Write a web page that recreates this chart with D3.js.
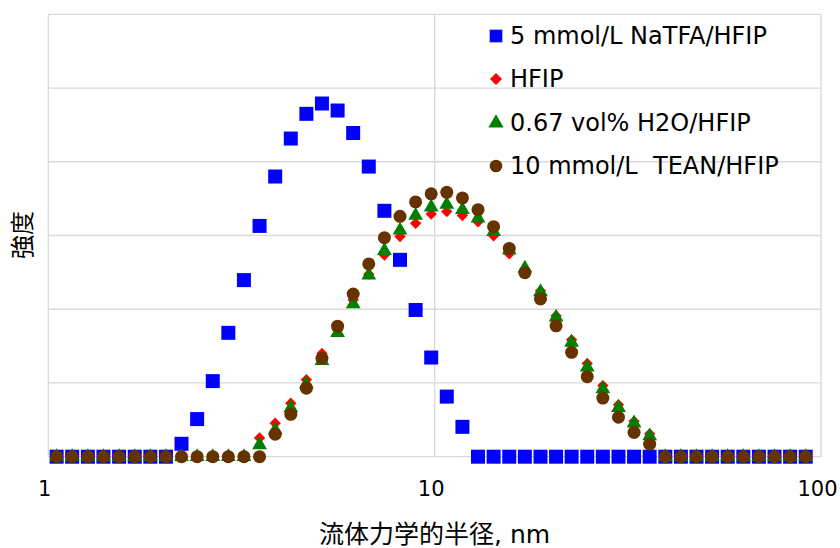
<!DOCTYPE html>
<html>
<head>
<meta charset="utf-8">
<script src="https://cdn.jsdelivr.net/npm/d3@7"></script>
<style>
  html, body { margin: 0; padding: 0; background: #fff; }
  svg { display: block; }
  text { font-family: "DejaVu Sans", "Noto Sans CJK JP", sans-serif; fill: #000; }
</style>
</head>
<body>
<svg id="chart" width="840" height="548"></svg>
<script>
// Hydrodynamic radius bins (nm), log spaced
const radius = [1.051, 1.153, 1.266, 1.389, 1.525, 1.674, 1.837, 2.016, 2.212, 2.428,
  2.665, 2.924, 3.209, 3.522, 3.866, 4.243, 4.656, 5.109, 5.608, 6.153,
  6.753, 7.412, 8.135, 8.928, 9.797, 10.75, 11.80, 12.95, 14.21, 15.60,
  17.12, 18.79, 20.62, 22.62, 24.83, 27.25, 29.91, 32.82, 36.02, 39.54,
  43.39, 47.62, 52.26, 57.35, 62.94, 69.07, 75.80, 83.18, 91.29];

// Intensity distribution of each solvent
const naTFA = [0, 0, 0, 0, 0, 0, 0, 0, 0.35, 1.02,
  2.05, 3.36, 4.79, 6.26, 7.60, 8.63, 9.30, 9.58, 9.39, 8.78,
  7.87, 6.67, 5.34, 3.98, 2.69, 1.63, 0.81, 0, 0, 0,
  0, 0, 0, 0, 0, 0, 0, 0, 0, 0,
  0, 0, 0, 0, 0, 0, 0, 0, 0];
const hfip = [0, 0, 0, 0, 0, 0, 0, 0, 0, 0,
  0, 0, 0, 0.51, 0.91, 1.45, 2.09, 2.80, 3.44, 4.25,
  4.95, 5.47, 5.97, 6.33, 6.58, 6.65, 6.54, 6.37, 5.99, 5.50,
  5.04, 4.50, 3.82, 3.17, 2.53, 1.93, 1.41, 0.96, 0.62, 0,
  0, 0, 0, 0, 0, 0, 0, 0, 0];
const h2o = [0, 0, 0, 0, 0, 0, 0, 0, 0, 0,
  0, 0, 0, 0.32, 0.72, 1.32, 1.97, 2.60, 3.36, 4.14,
  4.92, 5.59, 6.14, 6.54, 6.77, 6.84, 6.70, 6.47, 6.10, 5.61,
  5.11, 4.47, 3.78, 3.10, 2.43, 1.84, 1.33, 0.91, 0.56, 0,
  0, 0, 0, 0, 0, 0, 0, 0, 0];
const tean = [0, 0, 0, 0, 0, 0, 0, 0, 0, 0,
  0, 0, 0, 0, 0.61, 1.15, 1.86, 2.67, 3.54, 4.41,
  5.23, 5.94, 6.52, 6.91, 7.13, 7.17, 7.02, 6.70, 6.24, 5.65,
  4.99, 4.28, 3.55, 2.83, 2.17, 1.59, 1.07, 0.66, 0.34, 0,
  0, 0, 0, 0, 0, 0, 0, 0, 0];

const xTicks = [1, 10, 100];
const yTicks = [0, 2, 4, 6, 8, 10, 12];

const seriesNames = ["5 mmol/L NaTFA/HFIP", "HFIP", "0.67 vol% H2O/HFIP", "10 mmol/L  TEAN/HFIP"];
const seriesValues = [naTFA, hfip, h2o, tean];
const seriesColors = ["#0000ff", "#ff0000", "#008000", "#663300"];
const seriesShapes = [d3.symbolSquare, d3.symbolSquare, d3.symbolTriangle, d3.symbolCircle];
const seriesRotate = [0, 45, 0, 0];   // the diamond is a square turned 45°
const seriesSizes = [196, 64, 95, 133];
const legendSizes = [160, 72, 100, 125];

const svg = d3.select("#chart");
const plot = { left: 48.3, right: 821, top: 14.3, bottom: 456.7 };

const x = d3.scaleLog().domain([1, 100]).range([plot.left, plot.right]);
const y = d3.scaleLinear().domain([0, 12]).range([plot.bottom, plot.top]);

// gridlines
const grid = svg.append("g").attr("stroke", "#d9d9d9").attr("stroke-width", 1.3);
grid.selectAll("line.h").data(yTicks).join("line")
  .attr("x1", plot.left).attr("x2", plot.right)
  .attr("y1", d => y(d)).attr("y2", d => y(d));
grid.selectAll("line.v").data(xTicks).join("line")
  .attr("y1", plot.top).attr("y2", plot.bottom)
  .attr("x1", d => x(d)).attr("x2", d => x(d));

// x axis labels
const xAxis = d3.axisBottom(x).tickValues(xTicks).tickFormat(d3.format("d")).tickSize(0).tickPadding(0);
const gx = svg.append("g").attr("transform", `translate(-4,${plot.bottom + 24})`).call(xAxis);
gx.select(".domain").remove();
gx.selectAll("text").attr("font-size", 21).attr("dy", "0.32em").attr("y", 9)
  .style("font-family", "'DejaVu Sans', sans-serif").attr("fill", "#000");

// markers
seriesValues.forEach((vals, s) => {
  const sym = d3.symbol().type(seriesShapes[s]).size(seriesSizes[s]);
  svg.append("g").selectAll("path").data(vals).join("path")
    .attr("d", sym)
    .attr("fill", seriesColors[s])
    .attr("transform", (d, i) => `translate(${x(radius[i])},${y(d)}) rotate(${seriesRotate[s]})`);
});

// axis titles
svg.append("text")
  .attr("x", (plot.left + plot.right) / 2).attr("y", 534)
  .attr("text-anchor", "middle").attr("dominant-baseline", "central")
  .attr("font-size", 25)
  .text("流体力学的半径, nm");
svg.append("text")
  .attr("transform", "translate(23,235) rotate(-90)")
  .attr("text-anchor", "middle").attr("dominant-baseline", "central")
  .attr("font-size", 24)
  .text("強度");

// legend
const legendRows = [36, 79, 123, 166];
const legend = svg.append("g");
seriesNames.forEach((name, s) => {
  legend.append("path")
    .attr("d", d3.symbol().type(seriesShapes[s]).size(legendSizes[s]))
    .attr("fill", seriesColors[s])
    .attr("transform", `translate(496,${legendRows[s]}) rotate(${seriesRotate[s]})`);
  legend.append("text")
    .attr("x", 510).attr("y", legendRows[s])
    .attr("dominant-baseline", "central")
    .attr("font-size", 24)
    .style("white-space", "pre")
    .text(name);
});
</script>
</body>
</html>
